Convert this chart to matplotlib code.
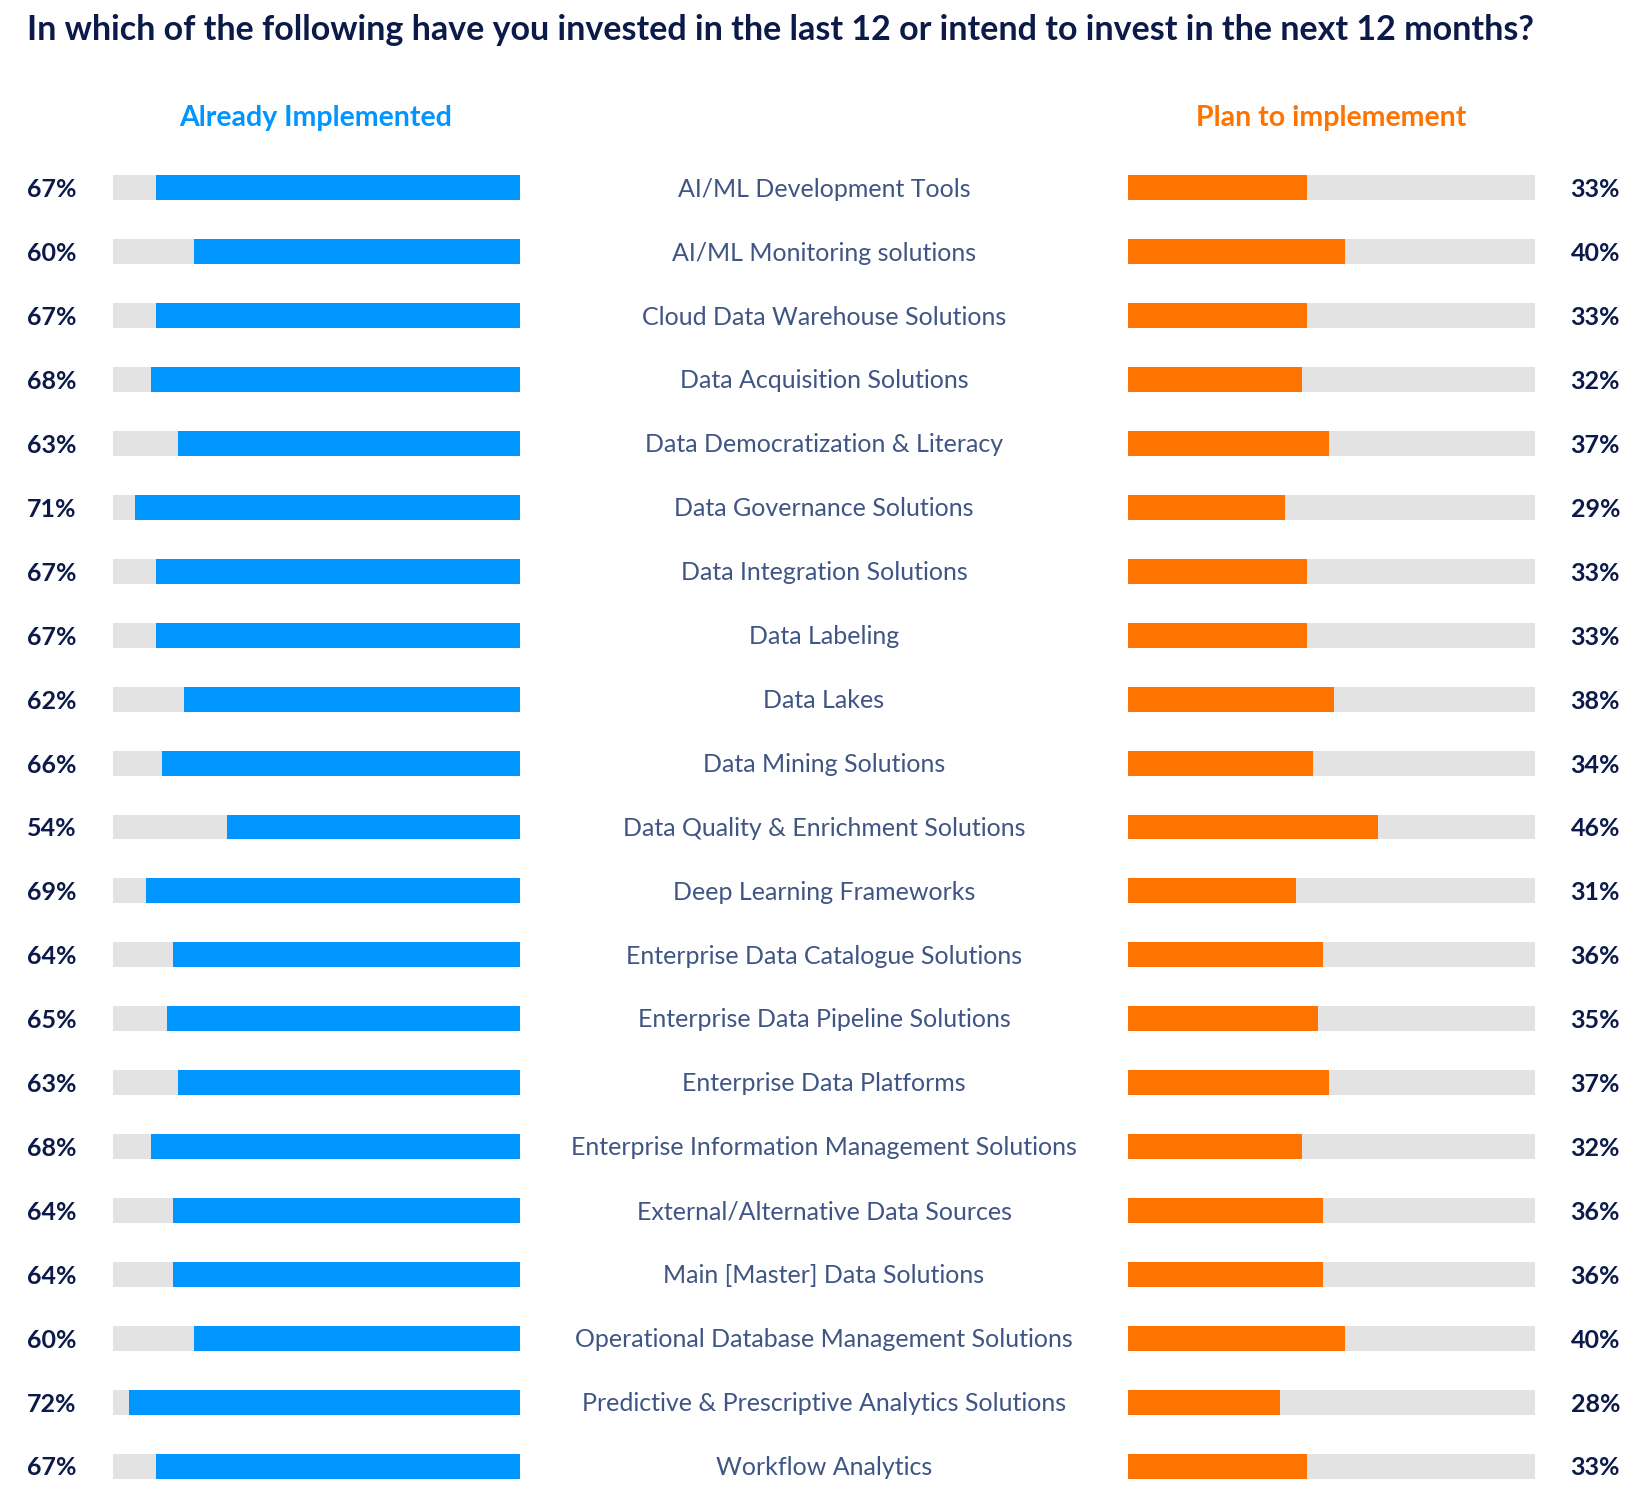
import matplotlib
matplotlib.use("Agg")
import matplotlib.pyplot as plt
import matplotlib.transforms as mtransforms

categories = [
    "AI/ML Development Tools",
    "AI/ML Monitoring solutions",
    "Cloud Data Warehouse Solutions",
    "Data Acquisition Solutions",
    "Data Democratization & Literacy",
    "Data Governance Solutions",
    "Data Integration Solutions",
    "Data Labeling",
    "Data Lakes",
    "Data Mining Solutions",
    "Data Quality & Enrichment Solutions",
    "Deep Learning Frameworks",
    "Enterprise Data Catalogue Solutions",
    "Enterprise Data Pipeline Solutions",
    "Enterprise Data Platforms",
    "Enterprise Information Management Solutions",
    "External/Alternative Data Sources",
    "Main [Master] Data Solutions",
    "Operational Database Management Solutions",
    "Predictive & Prescriptive Analytics Solutions",
    "Workflow Analytics",
]
implemented = [67, 60, 67, 68, 63, 71, 67, 67, 62, 66, 54, 69, 64, 65, 63, 68, 64, 64, 60, 72, 67]
planned = [33, 40, 33, 32, 37, 29, 33, 33, 38, 34, 46, 31, 36, 35, 37, 32, 36, 36, 40, 28, 33]

SCALE_MAX = 75
BLUE = "#0095FF"
ORANGE = "#FF7300"
GREY = "#E3E3E3"
NAVY = "#0B1A48"
SLATE = "#3F5585"

plt.rcParams["font.family"] = ["Lato", "DejaVu Sans"]

W, H = 1642, 1507
fig = plt.figure(figsize=(W / 100, H / 100), dpi=100)

n = len(categories)
rows = list(range(n))
bottom = (H - 1498) / H
height = (1498 - 156) / H
ax_l = fig.add_axes([113 / W, bottom, 407 / W, height])
ax_r = fig.add_axes([1128 / W, bottom, 407 / W, height])

bar_h = 0.39
ax_l.barh(rows, [SCALE_MAX] * n, height=bar_h, color=GREY)
ax_l.barh(rows, implemented, height=bar_h, color=BLUE)
ax_l.set_xlim(SCALE_MAX, 0)

ax_r.barh(rows, [SCALE_MAX] * n, height=bar_h, color=GREY)
ax_r.barh(rows, planned, height=bar_h, color=ORANGE)
ax_r.set_xlim(0, SCALE_MAX)

for ax in (ax_l, ax_r):
    ax.set_ylim(n - 0.5, -0.5)
    ax.axis("off")

trans = mtransforms.blended_transform_factory(fig.transFigure, ax_l.transData)
for i, (cat, a, b) in enumerate(zip(categories, implemented, planned)):
    fig.text(27 / W, i + 0.03, f"{a}%", transform=trans, ha="left", va="center",
             fontsize=18, fontweight="bold", color=NAVY)
    fig.text(1620 / W, i + 0.03, f"{b}%", transform=trans, ha="right", va="center",
             fontsize=18, fontweight="bold", color=NAVY)
    fig.text(824 / W, i + 0.02, cat, transform=trans, ha="center", va="center",
             fontsize=18, color=SLATE)

fig.text(27 / W, 1 - 30 / H,
         "In which of the following have you invested in the last 12 or intend to invest in the next 12 months?",
         ha="left", va="center", fontsize=24.5, fontweight="bold", color=NAVY)
fig.text(316 / W, 1 - 118 / H, "Already Implemented", ha="center", va="center",
         fontsize=20.5, fontweight="bold", color=BLUE)
fig.text(1331 / W, 1 - 118 / H, "Plan to implemement", ha="center", va="center",
         fontsize=20.5, fontweight="bold", color=ORANGE)

fig.savefig("out.png", dpi=100, facecolor="white")
